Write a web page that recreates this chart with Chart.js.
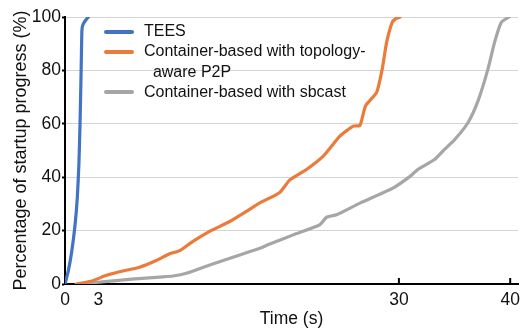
<!DOCTYPE html>
<html>
<head>
<meta charset="utf-8">
<script src="https://cdn.jsdelivr.net/npm/chart.js@4"></script>
<style>
  html, body { margin: 0; padding: 0; background: #fff; }
  #wrap { position: relative; width: 521px; height: 331px; }
  #legend { position: absolute; left: 104px; top: 21px; font-family: "Liberation Sans", Arial, sans-serif; font-size: 16px; color: #111; line-height: 20.3px; }
  #legend .row { position: relative; padding-left: 40px; white-space: nowrap; }
  #legend .sw { position: absolute; left: 0; top: 8.5px; width: 30px; height: 4px; border-radius: 2px; }
</style>
</head>
<body>
<div id="wrap">
  <canvas id="myChart" width="521" height="331"></canvas>
  <div id="legend"></div>
</div>
<script>
const xTicks = [0, 3, 30, 40];
const yTicks = [0, 20, 40, 60, 80, 100];

const teesTime = [0, 0.3, 0.6, 0.9, 1.1, 1.25, 1.35, 1.45, 1.52, 1.6, 1.8, 2.1];
const teesProg = [0, 5, 12, 22, 32, 45, 60, 80, 95, 97, 98.5, 100];

const p2pTime = [1.1, 2.2, 3.1, 3.4, 4.0, 4.9, 6.7, 8.2, 9.4, 10.3, 11.5, 13.0, 14.8, 16.3, 17.5, 19.3, 20.2, 21.7, 23.2, 24.7, 25.9, 26.5, 27.0, 28.0, 28.5, 28.9, 29.4, 29.7, 30.1];
const p2pProg = [0, 0.9, 2.2, 2.8, 3.6, 4.6, 6.3, 8.8, 11.3, 12.5, 16.0, 19.7, 23.4, 27.2, 30.4, 34.3, 39, 42.9, 47.9, 55.4, 59.1, 59.4, 66.7, 71.8, 80.5, 90.6, 98, 99.3, 100];

const sbTime = [1.0, 3.1, 6.0, 8.5, 9.7, 10.9, 13.0, 15.7, 17.5, 18.4, 20.5, 22.9, 23.5, 24.4, 26.5, 29.5, 31, 31.7, 33.2, 34.1, 35, 36.2, 37.1, 38, 38.6, 39.2, 39.9];
const sbProg = [0, 0.7, 1.8, 2.6, 3.0, 4.0, 7.1, 10.9, 13.4, 15.0, 18.4, 22.2, 25.0, 25.9, 30.3, 36, 40.3, 42.9, 46.6, 50.4, 54, 60.4, 68.5, 80.5, 90.6, 98, 100];

const seriesNames = ['TEES', ['Container-based with topology-', '  aware P2P'], 'Container-based with sbcast'];
const seriesColors = ['#4274c3', '#ec7a3a', '#a6a6a8'];

const toPts = (xs, ys) => xs.map((x, i) => ({ x: x, y: ys[i] }));

const innerTicks = {
  id: 'innerTicks',
  afterDraw(chart) {
    const ctx = chart.ctx;
    const xs = chart.scales.x;
    const bottom = chart.chartArea.bottom;
    ctx.save();
    ctx.strokeStyle = '#000';
    ctx.lineWidth = 2;
    [30, 40].forEach(v => {
      const px = xs.getPixelForValue(v);
      ctx.beginPath();
      ctx.moveTo(px, bottom);
      ctx.lineTo(px, bottom - 6);
      ctx.stroke();
    });
    ctx.restore();
  }
};

const font = { family: 'Liberation Sans', size: 17.5 };

const ctx = document.getElementById('myChart').getContext('2d');
new Chart(ctx, {
  type: 'line',
  data: {
    datasets: [
      { label: 'TEES', data: toPts(teesTime, teesProg), borderColor: seriesColors[0] },
      { label: 'P2P', data: toPts(p2pTime, p2pProg), borderColor: seriesColors[1] },
      { label: 'sbcast', data: toPts(sbTime, sbProg), borderColor: seriesColors[2] }
    ].map(d => Object.assign(d, { borderWidth: 3.2, pointRadius: 0, tension: 0.2, fill: false, borderCapStyle: 'round', borderJoinStyle: 'round' }))
  },
  options: {
    responsive: false,
    animation: false,
    layout: { padding: { top: 17, right: 3, left: 0, bottom: 0 } },
    plugins: { legend: { display: false }, tooltip: { enabled: false } },
    scales: {
      x: {
        type: 'linear',
        min: 0,
        max: 40.7,
        afterBuildTicks: s => { s.ticks = xTicks.map(v => ({ value: v })); },
        afterFit: s => { s.height = 47; s.paddingLeft = 0; s.paddingRight = 0; },
        ticks: { font: font, color: '#111', maxRotation: 0, padding: 6, autoSkip: false },
        grid: { display: true, drawOnChartArea: false, drawTicks: false },
        border: { color: '#000', width: 2 },
        title: { display: true, text: 'Time (s)', font: font, color: '#111', padding: { top: 0, bottom: 1 } }
      },
      y: {
        min: 0,
        max: 100,
        afterBuildTicks: s => { s.ticks = yTicks.map(v => ({ value: v })); },
        afterFit: s => { s.width = 65; },
        ticks: { font: font, color: '#111', padding: 1 },
        grid: { color: '#d4d4d4', lineWidth: 1, tickLength: 3, tickColor: '#000', tickWidth: 2 },
        border: { color: '#000', width: 2 },
        title: { display: true, text: 'Percentage of startup progress (%)', font: { family: 'Liberation Sans', size: 18 }, color: '#111', padding: { bottom: 0, top: 10 } }
      }
    }
  },
  plugins: [innerTicks]
});

const legend = document.getElementById('legend');
seriesNames.forEach((name, i) => {
  const lines = Array.isArray(name) ? name : [name];
  const row = document.createElement('div');
  row.className = 'row';
  row.innerHTML = '<span class="sw" style="background:' + seriesColors[i] + '"></span>' +
    lines.map(l => '<div>' + l.replace(/ /g, '&nbsp;') + '</div>').join('');
  legend.appendChild(row);
});
</script>
</body>
</html>
